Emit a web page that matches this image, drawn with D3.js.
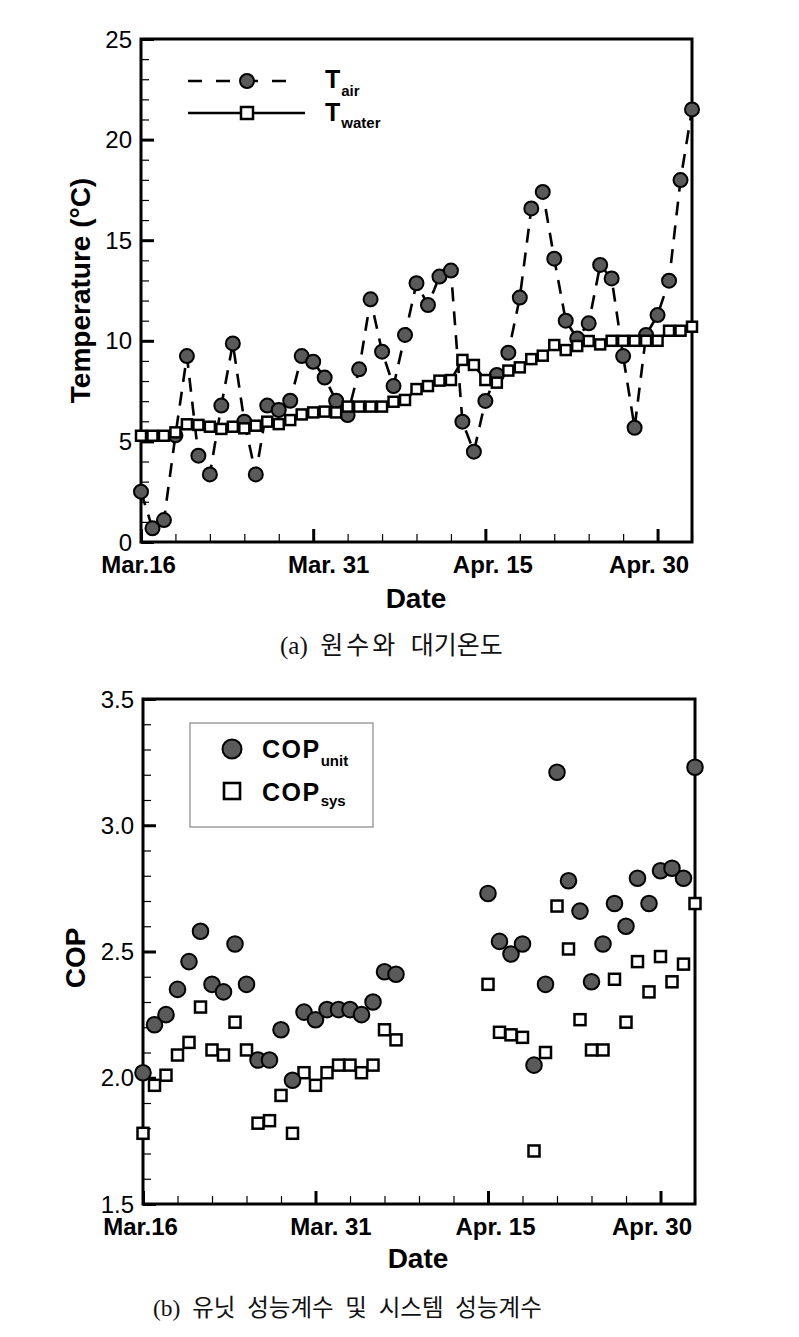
<!DOCTYPE html>
<html><head><meta charset="utf-8">
<script src="https://cdn.jsdelivr.net/npm/d3@7"></script>
<style>
html,body{margin:0;padding:0;background:#fff;}
svg{display:block;}
text{font-family:"Liberation Sans",Arial,sans-serif;}
.cap{font-family:"Liberation Serif","Noto Sans CJK KR",serif;white-space:pre;}
</style></head>
<body>
<svg id="chart" width="799" height="1337"></svg>
<script>
// ---------- data ----------
const dates = d3.timeDay.range(new Date(2011, 2, 16), new Date(2011, 4, 4)); // Mar 16 .. May 3
const xTickIdx = [0, 15, 30, 45];
const xTickLabels = ["Mar.16", "Mar. 31", "Apr. 15", "Apr. 30"];

const tAir = [2.5, 0.68, 1.09, 5.3, 9.24, 4.29, 3.36, 6.78, 9.87, 5.98,
  3.36, 6.78, 6.56, 7.02, 9.24, 8.96, 8.17, 7.02, 6.31, 8.58,
  12.06, 9.46, 7.75, 10.29, 12.86, 11.78, 13.19, 13.49, 5.98, 4.49,
  7.01, 8.3, 9.41, 12.15, 16.58, 17.4, 14.08, 11.0, 10.12, 10.87,
  13.77, 13.1, 9.24, 5.68, 10.29, 11.28, 12.99, 17.99, 21.5];
const tWater = [5.28, 5.28, 5.28, 5.45, 5.85, 5.82, 5.73, 5.62, 5.73, 5.65,
  5.78, 5.98, 5.86, 6.06, 6.34, 6.44, 6.48, 6.44, 6.73, 6.73,
  6.73, 6.73, 6.97, 7.06, 7.6, 7.75, 8.02, 8.05, 9.05, 8.8,
  8.05, 7.92, 8.52, 8.68, 9.09, 9.26, 9.79, 9.54, 9.74, 9.99,
  9.82, 10.0, 10.0, 10.0, 10.0, 10.0, 10.5, 10.5, 10.7];
const tempTicks = [0, 5, 10, 15, 20, 25];

const copUnit = [2.02, 2.21, 2.25, 2.35, 2.46, 2.58, 2.37, 2.34, 2.53, 2.37,
  2.07, 2.07, 2.19, 1.99, 2.26, 2.23, 2.27, 2.27, 2.27, 2.25,
  2.30, 2.42, 2.41, null, null, null, null, null, null, null,
  2.73, 2.54, 2.49, 2.53, 2.05, 2.37, 3.21, 2.78, 2.66, 2.38,
  2.53, 2.69, 2.60, 2.79, 2.69, 2.82, 2.83, 2.79, 3.23];
const copSys = [1.78, 1.97, 2.01, 2.09, 2.14, 2.28, 2.11, 2.09, 2.22, 2.11,
  1.82, 1.83, 1.93, 1.78, 2.02, 1.97, 2.02, 2.05, 2.05, 2.02,
  2.05, 2.19, 2.15, null, null, null, null, null, null, null,
  2.37, 2.18, 2.17, 2.16, 1.71, 2.10, 2.68, 2.51, 2.23, 2.11,
  2.11, 2.39, 2.22, 2.46, 2.34, 2.48, 2.38, 2.45, 2.69];
const copTicks = [1.5, 2.0, 2.5, 3.0, 3.5];

// ---------- style ----------
const FILL = "#5a5a5a";
const labelShift = [-3, 15, 7, -9];

const svg = d3.select("#chart");
svg.append("rect").attr("width", 799).attr("height", 1337).attr("fill", "#fff");

function frameAxes(g, x, y, L, T, R, B, yMajor, yMinor, yFmt) {
  g.append("g").attr("transform", `translate(${L},0)`)
    .call(d3.axisLeft(y).tickValues(yMinor).tickSize(-8).tickFormat("").tickSizeOuter(0))
    .call(a => a.select(".domain").remove())
    .selectAll("line").attr("stroke", "#000").attr("stroke-width", 1.2);
  const minorDates = d3.range(0, dates.length, 3).map(i => dates[i]);
  g.append("g").attr("transform", `translate(0,${B})`)
    .call(d3.axisBottom(x).tickValues(minorDates).tickSize(-8).tickFormat("").tickSizeOuter(0))
    .call(a => a.select(".domain").remove())
    .selectAll("line").attr("stroke", "#000").attr("stroke-width", 1.2);
  const ya = g.append("g").attr("transform", `translate(${L},0)`)
    .call(d3.axisLeft(y).tickValues(yMajor).tickSize(-13).tickPadding(9).tickFormat(yFmt).tickSizeOuter(0));
  ya.select(".domain").remove();
  ya.selectAll("line").attr("stroke", "#000").attr("stroke-width", 3);
  ya.selectAll("text").attr("font-size", 24).attr("font-family", "Liberation Sans, Arial, sans-serif").attr("fill", "#000").attr("dy", "0.34em");
  const xa = g.append("g").attr("transform", `translate(0,${B})`)
    .call(d3.axisBottom(x).tickValues(xTickIdx.map(i => dates[i])).tickSize(-13)
      .tickFormat((d, i) => xTickLabels[i]).tickSizeOuter(0));
  xa.select(".domain").remove();
  xa.selectAll("line").attr("stroke", "#000").attr("stroke-width", 3);
  xa.selectAll("text").attr("font-size", 24).attr("font-weight", "bold")
    .attr("font-family", "Liberation Sans, Arial, sans-serif").attr("fill", "#000")
    .attr("y", 31).attr("dy", 0).attr("dx", (d, i) => labelShift[i]);
  g.append("rect").attr("x", L).attr("y", T).attr("width", R - L).attr("height", B - T)
    .attr("fill", "none").attr("stroke", "#000").attr("stroke-width", 3);
}

// ================= TOP CHART =================
{
  const L = 141, T = 39, R = 692, B = 542;
  const x = d3.scaleTime().domain([dates[0], dates[dates.length - 1]]).range([L, R]);
  const y = d3.scaleLinear().domain([0, 25]).range([B, T]);
  const g = svg.append("g");

  const line = d3.line().x((d, i) => x(dates[i])).y(d => y(d));
  g.append("path").datum(tAir).attr("d", line).attr("fill", "none")
    .attr("stroke", "#000").attr("stroke-width", 2.6).attr("stroke-dasharray", "14,10");
  g.append("path").datum(tWater).attr("d", line).attr("fill", "none")
    .attr("stroke", "#000").attr("stroke-width", 2.6);

  frameAxes(g, x, y, L, T, R, B, tempTicks, d3.range(0, 26, 1), d3.format("d"));

  g.append("g").selectAll("circle").data(tAir).join("circle")
    .attr("cx", (d, i) => x(dates[i])).attr("cy", d => y(d)).attr("r", 7)
    .attr("fill", FILL).attr("stroke", "#000").attr("stroke-width", 2);
  const s = 10;
  g.append("g").selectAll("rect").data(tWater).join("rect")
    .attr("x", (d, i) => x(dates[i]) - s / 2).attr("y", d => y(d) - s / 2)
    .attr("width", s).attr("height", s)
    .attr("fill", "#fff").attr("stroke", "#000").attr("stroke-width", 2.5);

  // legend
  const lg = g.append("g");
  lg.append("line").attr("x1", 188).attr("x2", 290).attr("y1", 81).attr("y2", 81)
    .attr("stroke", "#000").attr("stroke-width", 2.6).attr("stroke-dasharray", "14,14");
  lg.append("circle").attr("cx", 247).attr("cy", 81).attr("r", 7)
    .attr("fill", FILL).attr("stroke", "#000").attr("stroke-width", 2);
  lg.append("line").attr("x1", 188).attr("x2", 305).attr("y1", 113).attr("y2", 113)
    .attr("stroke", "#000").attr("stroke-width", 2.6);
  lg.append("rect").attr("x", 247 - 6).attr("y", 113 - 6).attr("width", 12).attr("height", 12)
    .attr("fill", "#fff").attr("stroke", "#000").attr("stroke-width", 2.5);
  const t1 = lg.append("text").attr("x", 325).attr("y", 88).attr("font-size", 25).attr("font-weight", "bold");
  t1.append("tspan").text("T");
  t1.append("tspan").attr("dy", 8).attr("dx", 1).attr("font-size", 15).text("air");
  const t2 = lg.append("text").attr("x", 325).attr("y", 121).attr("font-size", 25).attr("font-weight", "bold");
  t2.append("tspan").text("T");
  t2.append("tspan").attr("dy", 7).attr("dx", 1).attr("font-size", 15).text("water");

  g.append("text").attr("x", 416).attr("y", 608).attr("text-anchor", "middle")
    .attr("font-size", 28).attr("font-weight", "bold").text("Date");
  g.append("text").attr("transform", `translate(90,${(T + B) / 2}) rotate(-90)`)
    .attr("text-anchor", "middle").attr("font-size", 28).attr("font-weight", "bold")
    .text("Temperature (°C)");

  const c = g.append("text").attr("class", "cap").attr("x", 280).attr("y", 654).attr("font-size", 25).attr("fill", "#111");
  c.append("tspan").text("(a)  ");
  c.append("tspan").attr("letter-spacing", 3).text("원수와");
  c.append("tspan").text("  대기온도");
}

// ================= BOTTOM CHART =================
{
  const L = 143, T = 699, R = 695, B = 1204;
  const x = d3.scaleTime().domain([dates[0], dates[dates.length - 1]]).range([L, R]);
  const y = d3.scaleLinear().domain([1.5, 3.5]).range([B, T]);
  const g = svg.append("g");

  frameAxes(g, x, y, L, T, R, B, copTicks, d3.range(15, 36, 1).map(v => v / 10), d3.format(".1f"));

  const unitPts = copUnit.map((v, i) => ({ v, d: dates[i] })).filter(p => p.v != null);
  const sysPts = copSys.map((v, i) => ({ v, d: dates[i] })).filter(p => p.v != null);

  const s = 11;
  g.append("g").selectAll("rect").data(sysPts).join("rect")
    .attr("x", p => x(p.d) - s / 2).attr("y", p => y(p.v) - s / 2)
    .attr("width", s).attr("height", s)
    .attr("fill", "#fff").attr("stroke", "#000").attr("stroke-width", 2.5);
  g.append("g").selectAll("circle").data(unitPts).join("circle")
    .attr("cx", p => x(p.d)).attr("cy", p => y(p.v)).attr("r", 7.8)
    .attr("fill", FILL).attr("stroke", "#000").attr("stroke-width", 2);

  const lg = g.append("g");
  lg.append("rect").attr("x", 190).attr("y", 723).attr("width", 183).attr("height", 104)
    .attr("fill", "#fff").attr("stroke", "#888").attr("stroke-width", 1.2);
  lg.append("circle").attr("cx", 232).attr("cy", 749).attr("r", 9.5)
    .attr("fill", FILL).attr("stroke", "#000").attr("stroke-width", 2);
  lg.append("rect").attr("x", 232 - 8).attr("y", 791 - 8).attr("width", 16).attr("height", 16)
    .attr("fill", "#fff").attr("stroke", "#000").attr("stroke-width", 2.6);
  const t1 = lg.append("text").attr("x", 262).attr("y", 758).attr("font-size", 25).attr("font-weight", "bold");
  t1.append("tspan").attr("letter-spacing", 1.5).text("COP");
  t1.append("tspan").attr("dy", 8).attr("font-size", 15).text("unit");
  const t2 = lg.append("text").attr("x", 262).attr("y", 801).attr("font-size", 25).attr("font-weight", "bold");
  t2.append("tspan").attr("letter-spacing", 1.5).text("COP");
  t2.append("tspan").attr("dy", 5).attr("font-size", 15).text("sys");

  g.append("text").attr("x", 418).attr("y", 1268).attr("text-anchor", "middle")
    .attr("font-size", 28).attr("font-weight", "bold").text("Date");
  g.append("text").attr("transform", `translate(85,958) rotate(-90)`)
    .attr("text-anchor", "middle").attr("font-size", 28).attr("font-weight", "bold")
    .text("COP");

  const c = g.append("text").attr("class", "cap").attr("x", 153).attr("y", 1316).attr("font-size", 23.5).attr("fill", "#111");
  c.text("(b)  유닛  성능계수  및  시스템  성능계수");
}
</script>
</body></html>
